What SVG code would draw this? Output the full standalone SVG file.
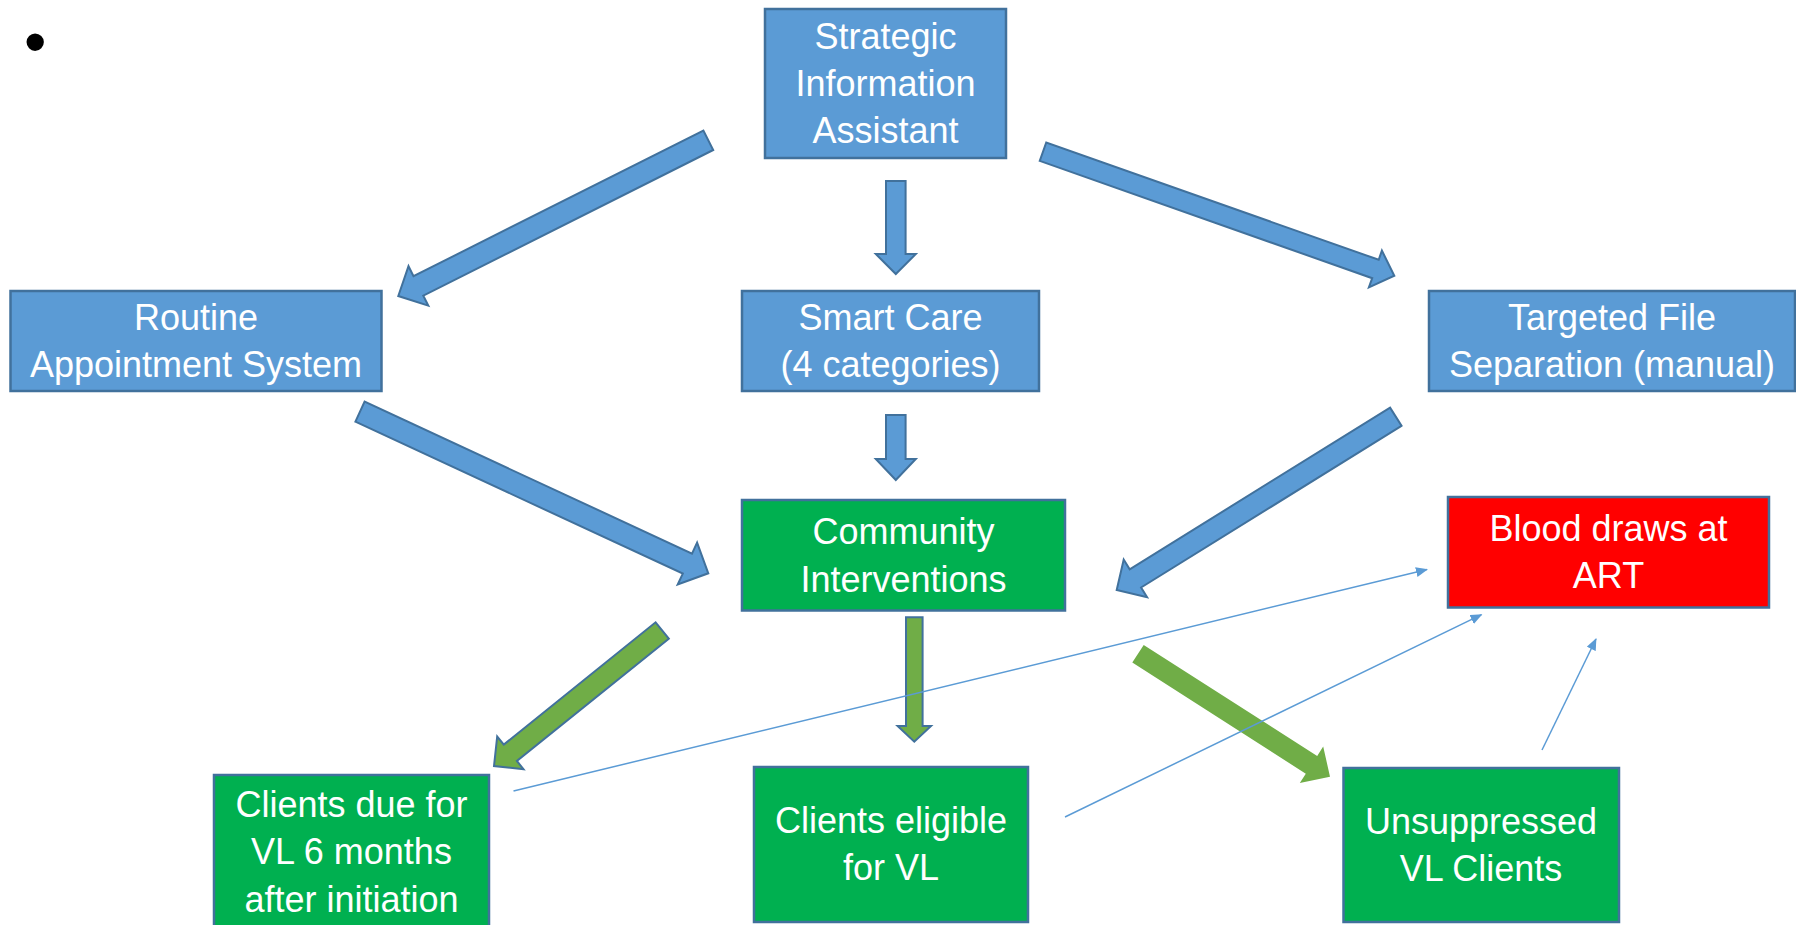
<svg xmlns="http://www.w3.org/2000/svg" width="1796" height="925" viewBox="0 0 1796 925">
<style>
.box{stroke:#41719C;stroke-width:2.5}
.blue{fill:#5B9BD5}
.green{fill:#00B050}
.red{fill:#FF0000}
.t{font-family:"Liberation Sans",Arial,sans-serif;font-size:36px;fill:#FFFFFF;text-anchor:middle}
.ba{fill:#5B9BD5;stroke:#41719C;stroke-width:2;stroke-linejoin:miter}
.ga{fill:#70AD47;stroke:#41719C;stroke-width:2;stroke-linejoin:miter}
.gn{fill:#70AD47}
.ln{stroke:#5B9BD5;stroke-width:1.5;fill:none;marker-end:url(#ah)}
</style>
<defs>
<marker id="ah" markerUnits="userSpaceOnUse" markerWidth="12" markerHeight="10" refX="11" refY="5" orient="auto">
<path d="M0,0 L12,5 L0,10 Z" fill="#5B9BD5"/>
</marker>
</defs>
<rect width="1796" height="925" fill="#FFFFFF"/>
<text x="24" y="64" style="font-family:'Liberation Sans',Arial,sans-serif;font-size:64px;fill:#000">•</text>

<g id="connectors">
<polygon class="ba" points="713.2,150.0 423.3,295.6 428.3,305.6 398.3,296 408.5,266.2 413.5,276.2 703.4,130.6"/>
<polygon class="ba" points="886,181 905.6,181 905.6,254 915.8,254 895.8,274 875.8,254 886,254"/>
<polygon class="ba" points="1039.75,160.9 1372.2,278.2 1368.9,287.4 1394.3,275.7 1381.9,250.6 1378.7,259.8 1046.25,142.5"/>
<polygon class="ba" points="886,415 905.6,415 905.6,459 915.8,459 895.8,480 875.8,459 886,459"/>
<polygon class="ba" points="355.4,421.7 682.8,573.6 677.7,584.5 708.3,573.3 697.1,542.7 692.0,553.6 364.6,401.7"/>
<polygon class="ba" points="1401.5,425.8 1141.1,587.5 1147.1,597.3 1116.7,590 1123.7,559.5 1129.7,569.3 1390.1,407.6"/>
<polygon class="ga" points="668.8,638.7 516.9,761.0 523.5,769.2 494,766 497.2,736.5 503.8,744.6 655.6,622.3"/>
<polygon class="ga" points="906,617.3 922.6,617.3 922.6,726 931,726 914.3,741.7 897.6,726 906,726"/>
<polygon class="gn" points="1132.3,662.6 1305.8,773.7 1299.8,783.1 1330,776.7 1323.2,746.5 1317.2,756.0 1143.7,645.0"/>
<line class="ln" x1="513.5" y1="791" x2="1427" y2="569.5"/>
<line class="ln" x1="1065" y1="817" x2="1481.5" y2="614.6"/>
<line class="ln" x1="1542" y1="750" x2="1596" y2="639"/>
</g>

<g id="strategic">
<rect class="box blue" x="765" y="9" width="241" height="149"/>
<text class="t" x="885.5" y="49">Strategic</text>
<text class="t" x="885.5" y="96">Information</text>
<text class="t" x="885.5" y="143">Assistant</text>
</g>
<g id="routine">
<rect class="box blue" x="10.5" y="291" width="371" height="100"/>
<text class="t" x="196" y="330">Routine</text>
<text class="t" x="196" y="377">Appointment System</text>
</g>
<g id="smartcare">
<rect class="box blue" x="742" y="291" width="297" height="100"/>
<text class="t" x="890.5" y="330">Smart Care</text>
<text class="t" x="890.5" y="377">(4 categories)</text>
</g>
<g id="targeted">
<rect class="box blue" x="1429" y="291" width="366" height="100"/>
<text class="t" x="1612" y="330">Targeted File</text>
<text class="t" x="1612" y="377">Separation (manual)</text>
</g>
<g id="community">
<rect class="box green" x="742" y="500" width="323" height="110.5"/>
<text class="t" x="903.5" y="544">Community</text>
<text class="t" x="903.5" y="592">Interventions</text>
</g>
<g id="blood">
<rect class="box red" x="1448" y="497" width="321" height="110.5"/>
<text class="t" x="1608.5" y="541">Blood draws at</text>
<text class="t" x="1608.5" y="588">ART</text>
</g>
<g id="clientsdue">
<rect class="box green" x="214" y="775" width="275" height="152"/>
<text class="t" x="351.5" y="817">Clients due for</text>
<text class="t" x="351.5" y="864">VL 6 months</text>
<text class="t" x="351.5" y="912">after initiation</text>
</g>
<g id="eligible">
<rect class="box green" x="754" y="767" width="274" height="155"/>
<text class="t" x="891" y="833">Clients eligible</text>
<text class="t" x="891" y="880">for VL</text>
</g>
<g id="unsuppressed">
<rect class="box green" x="1343.5" y="768" width="275.5" height="154"/>
<text class="t" x="1481" y="834">Unsuppressed</text>
<text class="t" x="1481" y="881">VL Clients</text>
</g>
</svg>
